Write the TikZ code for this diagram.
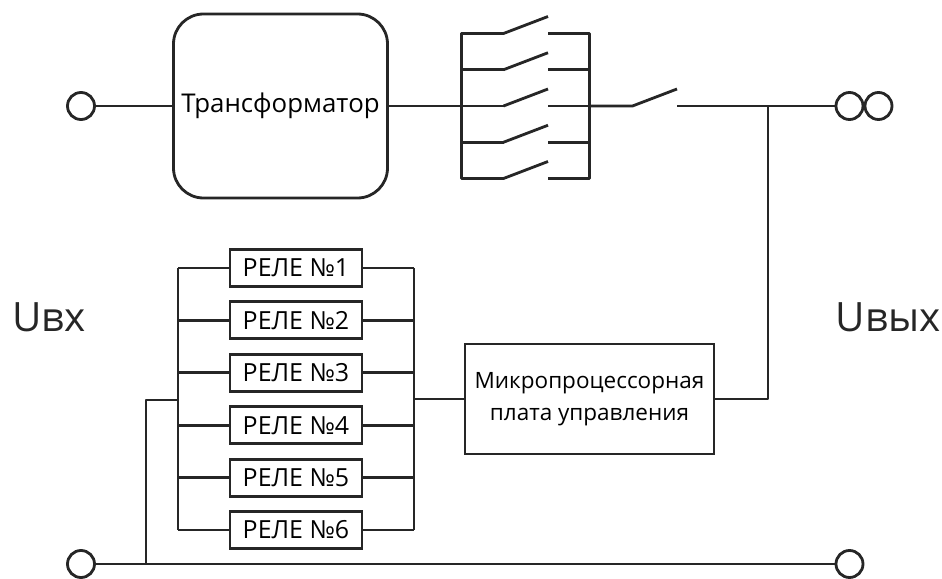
\documentclass[tikz,border=0pt]{standalone}
\usepackage{fontspec}
\setmainfont{Open Sans}
\usepackage{tikz}
\usetikzlibrary{positioning}

\tikzset{
    wire/.style={line width=1.6pt,black!85,line join=round},
    thinwire/.style={line width=0.9pt,black!85},
    terminal/.style={circle,draw=black!85,line width=1.6pt,minimum size=0.54cm,inner sep=0pt,outer sep=0pt},
    transbox/.style={draw=black!85,line width=1.6pt,rounded corners=0.6cm,minimum width=4.28cm,minimum height=3.68cm,inner sep=0pt,outer sep=0pt,font=\fontsize{14.7}{18}\selectfont},
    relaybox/.style={draw=black!85,line width=1.6pt,minimum width=2.64cm,minimum height=0.74cm,inner sep=0pt,outer sep=0pt,font=\fontsize{14.2}{16}\selectfont},
    boardbox/.style={draw=black!85,line width=1.6pt,minimum width=4.98cm,minimum height=2.2cm,inner sep=0pt,outer sep=0pt,align=center,font=\fontsize{12.8}{18}\selectfont},
    voltage/.style={inner sep=0pt,black!85,font=\fontsize{23}{26}\selectfont}
}

\begin{document}
\begin{tikzpicture}
        \useasboundingbox (0,0) rectangle (18.84,-11.58);
        % power path
        \node[terminal] (inA) at (1.62,-2.12) {};
        \node[transbox,right=1.58cm of inA] (trans) {Трансформатор};
        \coordinate[right=1.48cm of trans] (s3l);
        \coordinate[above=0.725cm of s3l] (s2l);
        \coordinate[above=0.725cm of s2l] (s1l);
        \coordinate[below=0.725cm of s3l] (s4l);
        \coordinate[below=0.725cm of s4l] (s5l);
        \coordinate[right=0.84cm of s1l] (s1m);
        \coordinate[right=0.84cm of s2l] (s2m);
        \coordinate[right=0.84cm of s3l] (s3m);
        \coordinate[right=0.84cm of s4l] (s4m);
        \coordinate[right=0.84cm of s5l] (s5m);
        \coordinate[above right=0.34cm and 0.89cm of s1m] (s1t);
        \coordinate[above right=0.34cm and 0.89cm of s2m] (s2t);
        \coordinate[above right=0.34cm and 0.89cm of s3m] (s3t);
        \coordinate[above right=0.34cm and 0.89cm of s4m] (s4t);
        \coordinate[above right=0.34cm and 0.89cm of s5m] (s5t);
        \coordinate[right=0.89cm of s1m] (s1c);
        \coordinate[right=0.89cm of s2m] (s2c);
        \coordinate[right=0.89cm of s3m] (s3c);
        \coordinate[right=0.89cm of s4m] (s4c);
        \coordinate[right=0.89cm of s5m] (s5c);
        \coordinate[right=0.83cm of s1c] (s1r);
        \coordinate[right=0.83cm of s2c] (s2r);
        \coordinate[right=0.83cm of s3c] (s3r);
        \coordinate[right=0.83cm of s4c] (s4r);
        \coordinate[right=0.83cm of s5c] (s5r);
        \coordinate[right=0.86cm of s3r] (mainm);
        \coordinate[above right=0.34cm and 0.89cm of mainm] (maint);
        \coordinate[right=0.89cm of mainm] (mainc);
        \coordinate[right=1.82cm of mainc] (tap);
        \node[terminal] (outA) at (16.99,-2.12) {};
        \node[terminal,right=0.04cm of outA] (outB) {};
        % relay block
        \node[relaybox] (r1) at (5.92,-5.36) {РЕЛЕ №1};
        \node[relaybox,below=0.308cm of r1] (r2) {РЕЛЕ №2};
        \node[relaybox,below=0.308cm of r2] (r3) {РЕЛЕ №3};
        \node[relaybox,below=0.308cm of r3] (r4) {РЕЛЕ №4};
        \node[relaybox,below=0.308cm of r4] (r5) {РЕЛЕ №5};
        \node[relaybox,below=0.308cm of r5] (r6) {РЕЛЕ №6};
        \coordinate[left=1.04cm of r1] (lb1);
        \coordinate[left=1.04cm of r2] (lb2);
        \coordinate[left=1.04cm of r3] (lb3);
        \coordinate[left=1.04cm of r4] (lb4);
        \coordinate[left=1.04cm of r5] (lb5);
        \coordinate[left=1.04cm of r6] (lb6);
        \coordinate[right=1.04cm of r1] (rb1);
        \coordinate[right=1.04cm of r2] (rb2);
        \coordinate[right=1.04cm of r3] (rb3);
        \coordinate[right=1.04cm of r4] (rb4);
        \coordinate[right=1.04cm of r5] (rb5);
        \coordinate[right=1.04cm of r6] (rb6);
        \node[boardbox] (board) at (11.79,-7.98) {Микропроцессорная\\плата управления};
        \node[terminal] (inB) at (1.62,-11.28) {};
        \node[terminal] (outC) at (16.99,-11.28) {};
        \coordinate (feedtop) at (2.92,-8);
        \coordinate (feedbot) at (feedtop |- inB);
        \node[voltage] (uin) at (0.98,-6.34) {Uвх};
        \node[voltage] (uout) at (17.76,-6.34) {Uвых};
        % wires, power path
        \draw[wire] (inA) -- (trans);
        \draw[thinwire] (trans) -- (s3l);
        \draw[wire] (s1m) -- (s1l) -- (s5l) -- (s5m);
        \draw[wire] (s2l) -- (s2m);
        \draw[wire] (s3l) -- (s3m);
        \draw[wire] (s4l) -- (s4m);
        \draw[wire] (s1m) -- (s1t);
        \draw[wire] (s2m) -- (s2t);
        \draw[wire] (s3m) -- (s3t);
        \draw[wire] (s4m) -- (s4t);
        \draw[wire] (s5m) -- (s5t);
        \draw[wire] (s1c) -- (s1r) -- (s5r) -- (s5c);
        \draw[wire] (s2c) -- (s2r);
        \draw[wire] (s3c) -- (s3r);
        \draw[wire] (s4c) -- (s4r);
        \draw[wire] (s3r) -- (mainm) -- (maint);
        \draw[wire] (mainc) -- (outA);
        \draw[wire] (board) -| (tap);
        % wires, relay block
        \draw[wire] (lb1) -- (r1);
        \draw[wire] (lb2) -- (r2);
        \draw[wire] (lb3) -- (r3);
        \draw[wire] (lb4) -- (r4);
        \draw[wire] (lb5) -- (r5);
        \draw[wire] (lb6) -- (r6);
        \draw[wire] (r1) -- (rb1);
        \draw[wire] (r2) -- (rb2);
        \draw[wire] (r3) -- (rb3);
        \draw[wire] (r4) -- (rb4);
        \draw[wire] (r5) -- (rb5);
        \draw[wire] (r6) -- (rb6);
        \draw[wire] (lb1) -- (lb6);
        \draw[wire] (rb1) -- (rb6);
        \draw[wire] (rb3 |- board) -- (board);
        \draw[wire] (lb3 |- feedtop) -- (feedtop) -- (feedbot);
        \draw[wire] (inB) -- (outC);
    \end{tikzpicture}
\end{document}
